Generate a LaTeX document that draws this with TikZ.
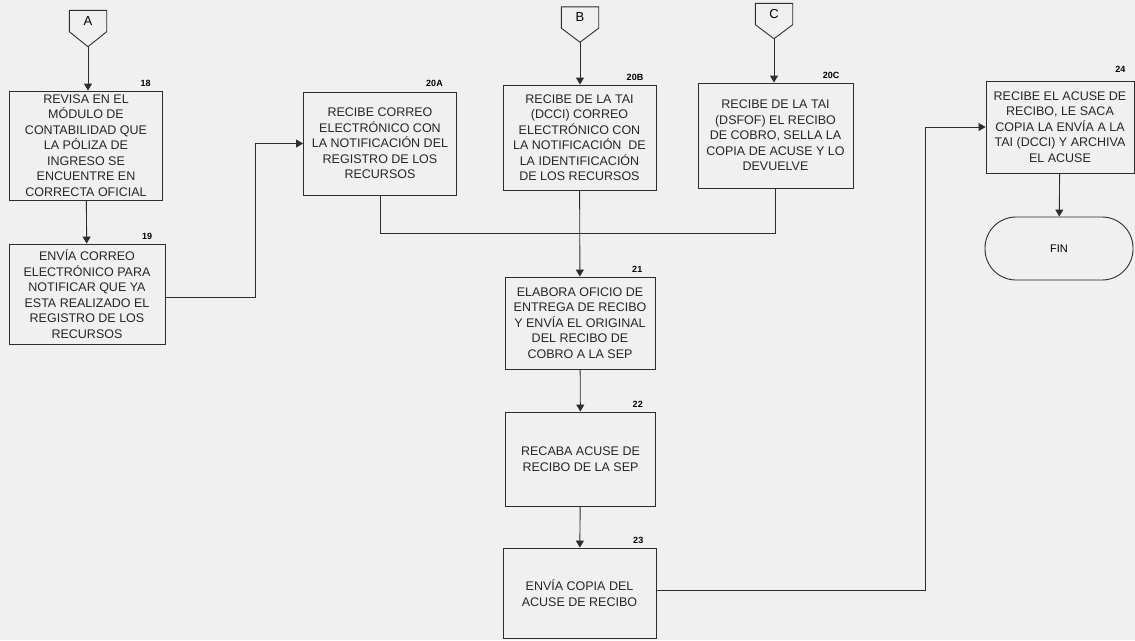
\documentclass[tikz,border=0pt]{standalone}
\usepackage{fontspec}
\setmainfont{Liberation Sans}
\usetikzlibrary{arrows.meta}

\definecolor{fondo}{RGB}{241,240,241}
\definecolor{trazo}{RGB}{45,45,45}

\begin{document}
\begin{tikzpicture}[x=1pt,y=-1pt,
	paso/.style={draw=trazo,line width=0.9pt,align=center,inner sep=1pt,minimum width=153pt,text=black!85,font=\fontsize{12.5}{15.5}\selectfont},
	numero/.style={anchor=south east,inner sep=1pt,font=\bfseries\fontsize{9}{9}\selectfont},
	conector/.style={minimum width=37pt,minimum height=21pt,inner sep=0pt,font=\fontsize{13}{13}\selectfont},
	linea/.style={draw=trazo,line width=0.9pt},
	flecha/.style={linea,-{Triangle[width=8pt,length=7pt]}}]
	\fill[fondo] (0,0) rectangle (1135,640);
	\useasboundingbox (0,0) rectangle (1135,640);

	% conectores de pagina
	\node[conector] (cA) at (88,21) {A};
	\coordinate (pA) at ([yshift=-15pt]cA.south);
	\draw[linea] (cA.north west) -- (cA.north east) -- (cA.south east) -- (pA) -- (cA.south west) -- cycle;
	\node[conector] (cB) at (580,17.5) {B};
	\coordinate (pB) at ([yshift=-14pt]cB.south);
	\draw[linea] (cB.north west) -- (cB.north east) -- (cB.south east) -- (pB) -- (cB.south west) -- cycle;
	\node[conector] (cC) at (774,14) {C};
	\coordinate (pC) at ([yshift=-14pt]cC.south);
	\draw[linea] (cC.north west) -- (cC.north east) -- (cC.south east) -- (pC) -- (cC.south west) -- cycle;

	% actividades
	\node[paso,minimum height=109pt] (b18) at (86,145.5) {REVISA EN EL\\MÓDULO DE\\CONTABILIDAD QUE\\LA PÓLIZA DE\\INGRESO SE\\ENCUENTRE EN\\CORRECTA OFICIAL};
	\node[paso,minimum height=100pt,minimum width=156pt] (b19) at (87,294) {ENVÍA CORREO\\ELECTRÓNICO PARA\\NOTIFICAR QUE YA\\ESTA REALIZADO EL\\REGISTRO DE LOS\\RECURSOS};
	\node[paso,minimum height=103pt] (b20A) at (380,143.5) {RECIBE CORREO\\ELECTRÓNICO CON\\LA NOTIFICACIÓN DEL\\REGISTRO DE LOS\\RECURSOS};
	\node[paso,minimum height=105pt] (b20B) at (579.5,137.5) {RECIBE DE LA TAI\\(DCCI) CORREO\\ELECTRÓNICO CON\\LA NOTIFICACIÓN~ DE\\LA IDENTIFICACIÓN\\DE LOS RECURSOS};
	\node[paso,minimum height=105pt,minimum width=155pt] (b20C) at (775.5,135.5) {RECIBE DE LA TAI\\(DSFOF) EL RECIBO\\DE COBRO, SELLA LA\\COPIA DE ACUSE Y LO\\DEVUELVE};
	\node[paso,minimum height=92pt,minimum width=150pt] (b21) at (580,323) {ELABORA OFICIO DE\\ENTREGA DE RECIBO\\Y ENVÍA EL ORIGINAL\\DEL RECIBO DE\\COBRO A LA SEP};
	\node[paso,minimum height=94pt,minimum width=150pt] (b22) at (580.5,459) {RECABA ACUSE DE\\RECIBO DE LA SEP};
	\node[paso,minimum height=90pt] (b23) at (579.5,593) {ENVÍA COPIA DEL\\ACUSE DE RECIBO};
	\node[paso,minimum height=92pt,minimum width=148pt] (b24) at (1060,127) {RECIBE EL ACUSE DE\\RECIBO, LE SACA\\COPIA LA ENVÍA A LA\\TAI (DCCI) Y ARCHIVA\\EL ACUSE};
	\node[draw=trazo,line width=0.9pt,minimum width=148pt,minimum height=63pt,rounded corners=31pt,font=\fontsize{11}{11}\selectfont] (fin) at (1059,248.5) {FIN};

	% numeros
	\node[numero] (n18) at ([xshift=-11pt,yshift=3pt]b18.north east) {18};
	\node[numero] (n19) at ([xshift=-12pt,yshift=3pt]b19.north east) {19};
	\node[numero] (n20A) at ([xshift=-13pt,yshift=4pt]b20A.north east) {20A};
	\node[numero] (n20B) at ([xshift=-12pt,yshift=3pt]b20B.north east) {20B};
	\node[numero] (n20C) at ([xshift=-13pt,yshift=3pt]b20C.north east) {20C};
	\node[numero] (n21) at ([xshift=-12pt,yshift=3pt]b21.north east) {21};
	\node[numero] (n22) at ([xshift=-12pt,yshift=3pt]b22.north east) {22};
	\node[numero] (n23) at ([xshift=-12pt,yshift=3pt]b23.north east) {23};
	\node[numero] (n24) at ([xshift=-8pt,yshift=7pt]b24.north east) {24};

	% flujo
	\draw[flecha] (pA) -- (pA |- b18.north);
	\draw[flecha] (b18) -- (b19);
	\draw[flecha] ([yshift=-3pt]b19.east) -- ++(90,0) |- (b20A.west);
	\draw[flecha] (pB) -- (pB |- b20B.north);
	\draw[flecha] (pC) -- (pC |- b20C.north);
	\coordinate (union) at (b20B.south |- 0,233);
	\draw[linea] (b20A.south) |- (union);
	\draw[linea] (b20C.south) |- (union);
	\draw[flecha] (b20B) -- (b21);
	\draw[flecha] (b21) -- (b22);
	\draw[flecha] (b22) -- (b23);
	\draw[flecha] ([yshift=3pt]b23.east) -- ++(269,0) |- (b24.west);
	\draw[flecha] (b24) -- (fin);
\end{tikzpicture}
\end{document}
